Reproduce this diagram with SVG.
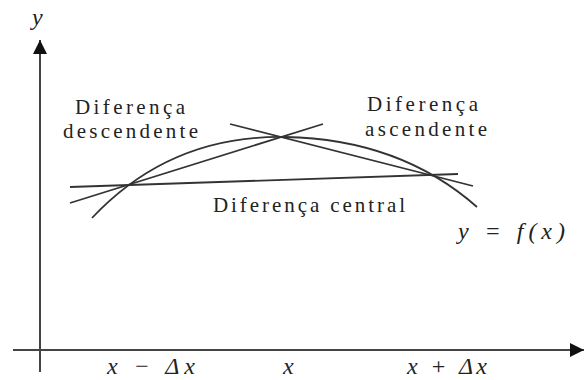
<svg xmlns="http://www.w3.org/2000/svg" width="584" height="380" viewBox="0 0 584 380">
<style>
.ax{stroke:#444;stroke-width:2;fill:none}
.ln{stroke:#333;stroke-width:1.8;fill:none}
.lbl{font-family:"Liberation Serif",serif;font-size:21px;fill:#222}
.math{font-family:"Liberation Serif",serif;font-style:italic;font-size:24px;fill:#222}
</style>
<defs>
<marker id="ah" viewBox="0 0 10 10" refX="10" refY="5" markerWidth="14" markerHeight="14" markerUnits="userSpaceOnUse" orient="auto">
<path d="M0,0 L10,5 L0,10 Z" fill="#111"/>
</marker>
</defs>
<rect width="584" height="380" fill="#fff"/>
<g id="axes">
<line class="ax" x1="40" y1="372" x2="40" y2="40" marker-end="url(#ah)"/>
<line class="ax" x1="13" y1="350" x2="584" y2="350" marker-end="url(#ah)"/>
<text class="math" x="32" y="25" font-size="22">y</text>
<text class="math" x="107" y="374" textLength="88" lengthAdjust="spacing">x − Δx</text>
<text class="math" x="283" y="374">x</text>
<text class="math" x="407" y="374" textLength="80" lengthAdjust="spacing">x + Δx</text>
</g>
<g id="connectors">
<path id="curve" class="ln" d="M92,218 Q170,135 285,137 Q400,139 477,207"/>
<line id="central" class="ln" x1="70" y1="187" x2="458" y2="174"/>
<line id="descendente" class="ln" x1="70" y1="203" x2="323" y2="124"/>
<line id="ascendente" class="ln" x1="230" y1="124" x2="473" y2="186"/>
</g>
<g id="label-descendente">
<text class="lbl" x="75" y="113.5" textLength="110" lengthAdjust="spacing">Diferença</text>
<text class="lbl" x="63" y="138" textLength="135" lengthAdjust="spacing">descendente</text>
</g>
<g id="label-ascendente">
<text class="lbl" x="367" y="111" textLength="111" lengthAdjust="spacing">Diferença</text>
<text class="lbl" x="365" y="135.5" textLength="122" lengthAdjust="spacing">ascendente</text>
</g>
<g id="label-central">
<text class="lbl" x="213" y="212" textLength="192" lengthAdjust="spacing">Diferença central</text>
</g>
<g id="label-f">
<text class="math" x="458" y="239" textLength="107" lengthAdjust="spacing">y = f(x)</text>
</g>
</svg>
